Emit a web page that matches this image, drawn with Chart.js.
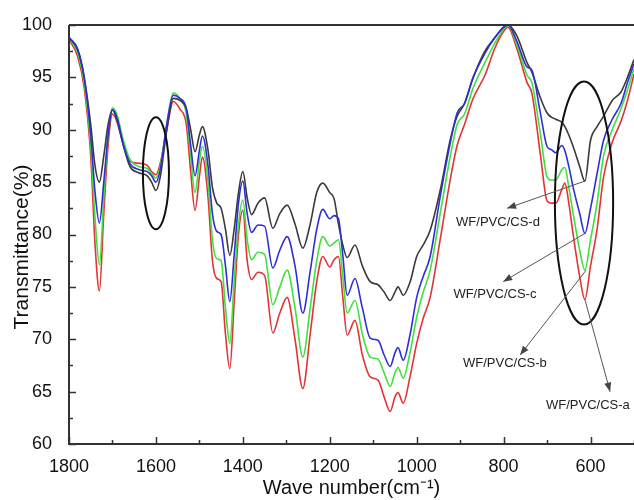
<!DOCTYPE html>
<html>
<head>
<meta charset="utf-8">
<script src="https://cdn.jsdelivr.net/npm/chart.js@4.4.0/dist/chart.umd.min.js"></script>
<style>
  html, body { margin: 0; padding: 0; background: #fff; }
  #wrap { width: 634px; height: 500px; }
</style>
</head>
<body>
<div id="wrap"><canvas id="chartContainer" width="634" height="500"></canvas></div>
<script>
// wave numbers (cm-1), shared by all four spectra
var wave = [1800,1780,1765,1750,1740,1730,1720,1710,1700,1690,1675,1660,1640,1620,1610,1600,1590,1575,1560,1545,1530,1520,1510,1500,1493,1480,1470,1460,1450,1440,1430,1420,1410,1400,1390,1380,1365,1350,1331,1315,1298,1280,1262,1245,1230,1216,1200,1190,1180,1170,1160,1142,1125,1107,1089,1075,1061,1050,1043,1031,1015,1000,985,969,946,923,907,890,870,843,820,800,790,770,746,735,715,700,690,680,666,659,650,640,625,613,600,585,570,550,530,515,500];

// transmittance (%) of each sample
var curveD = [98.8,97.6,95.0,90.5,86.5,85.0,87.5,90.5,91.9,91.0,88.5,86.5,85.9,85.6,85.0,84.2,85.5,90.0,93.0,92.8,92.0,90.0,87.9,89.5,90.3,88.0,84.5,83.0,82.5,80.5,78.0,80.5,84.0,86.0,83.5,81.9,83.0,83.5,80.6,82.0,82.8,81.0,78.7,81.0,84.0,84.9,84.0,83.4,81.0,79.0,77.8,79.0,77.0,75.5,75.2,74.5,73.7,74.5,75.0,74.2,75.5,77.9,79.0,80.4,84.2,89.0,91.3,92.5,95.0,97.5,98.8,99.8,100,99.0,96.4,95.5,93.0,91.6,91.2,91.0,90.7,90.3,89.5,88.4,86.5,85.1,89.0,90.3,91.3,92.8,93.6,95.0,96.7];
var curveC = [98.8,97.7,95.0,89.5,84.0,81.1,85.0,89.5,91.9,91.2,88.6,86.8,86.2,86.0,85.6,85.0,86.2,90.5,93.3,93.0,92.0,88.5,85.6,88.0,89.4,86.5,82.0,80.3,80.0,77.0,73.6,78.0,83.0,85.1,82.0,80.2,80.9,80.8,76.8,78.5,79.8,77.0,72.5,76.5,80.5,82.4,81.5,81.8,81.5,78.0,74.2,75.8,73.0,70.1,69.9,68.5,67.4,68.7,69.2,68.0,70.5,74.0,76.0,77.9,83.6,88.7,91.6,92.5,95.0,97.3,98.8,99.8,100,98.5,96.0,95.7,91.5,88.4,88.1,87.8,88.5,88.0,86.5,84.5,82.0,80.1,82.5,85.8,89.0,91.0,92.5,94.5,96.3];
var curveB = [98.7,97.3,94.5,88.5,81.5,77.1,83.5,89.5,92.1,91.5,89.0,87.2,86.5,86.3,85.8,85.4,86.5,90.6,93.5,93.0,91.5,87.5,84.0,87.0,88.4,85.0,79.5,77.7,77.5,73.0,69.6,75.5,81.0,83.3,79.5,77.6,78.3,78.1,73.3,75.0,76.6,73.0,68.3,73.0,77.5,79.8,78.9,79.2,79.5,76.0,72.5,73.7,70.5,68.3,68.1,66.8,65.5,66.8,67.3,66.3,68.8,72.1,74.5,76.6,82.0,87.4,90.5,91.5,94.0,96.4,98.3,99.6,100,98.2,95.2,94.5,89.5,85.5,85.2,85.2,86.2,86.4,84.5,82.0,78.5,76.6,79.5,83.0,87.5,90.0,92.0,93.8,95.8];
var curveA = [98.6,97.0,94.0,87.5,79.0,74.6,82.0,88.5,91.5,90.8,88.6,87.0,86.8,86.6,86.0,85.7,86.8,90.0,92.7,92.0,90.5,86.0,82.3,85.5,87.4,83.5,77.5,75.8,75.5,70.5,67.2,73.5,80.0,82.3,77.5,75.7,76.4,76.1,70.6,72.5,74.0,70.0,65.3,70.5,75.5,77.9,76.9,77.6,77.9,74.0,70.4,71.8,68.5,66.4,66.1,64.5,63.1,64.5,64.9,63.9,66.5,69.6,72.0,74.0,79.5,85.2,88.5,90.5,93.0,95.2,97.8,99.4,99.8,97.8,94.5,93.5,87.5,83.2,83.0,83.0,84.3,84.9,83.0,80.0,76.0,73.8,77.0,80.5,85.5,88.8,90.8,92.8,95.3];

var seriesNames = ['WF/PVC/CS-c', 'WF/PVC/CS-d', 'WF/PVC/CS-b', 'WF/PVC/CS-a'];
var seriesData = [curveC, curveD, curveB, curveA];
var seriesColors = ['#2e2ed6', '#3a3a3a', '#3fe03f', '#e23434'];

var xTicksMajor = [1800, 1600, 1400, 1200, 1000, 800, 600];
var xTicksMinor = [1700, 1500, 1300, 1100, 900, 700, 500];
var yTicksMajor = [60, 65, 70, 75, 80, 85, 90, 95, 100];
var yTitle = 'Transmittance(%)';

// ellipses marking the bands (centre / radii in wave number and %)
var ellipseCx = [1600, 615];
var ellipseCy = [85.85, 83.0];
var ellipseRx = [30, 67];
var ellipseRy = [5.35, 11.6];

// arrow from each curve minimum to its label
var arrowLabels = ['WF/PVC/CS-d', 'WF/PVC/CS-c', 'WF/PVC/CS-b', 'WF/PVC/CS-a'];
var arrowFrom = [[613, 85.1], [613, 80.1], [610, 76.6], [613, 73.8]];
var arrowTo = [[792, 82.5], [801, 75.5], [762, 68.5], [555, 65.0]];
var labelAt = [[813, 81.2], [820, 74.3], [797, 67.7], [606, 63.7]];

var FONT = "'Liberation Sans', Arial, sans-serif";

function toPts(arr) {
  return wave.map(function(w, i) { return { x: w, y: arr[i] }; });
}

// axes frame, inward ticks, y title
var framePlugin = {
  id: 'frame',
  afterDraw: function(chart) {
    var ctx = chart.ctx, a = chart.chartArea;
    var x = chart.scales.x, y = chart.scales.y;
    ctx.save();
    ctx.strokeStyle = '#333';
    ctx.lineWidth = 2;
    ctx.beginPath();
    ctx.moveTo(a.left, a.top);
    ctx.lineTo(a.left, a.bottom);
    ctx.lineTo(a.right, a.bottom);
    ctx.moveTo(a.left, a.top);
    ctx.lineTo(a.right, a.top);
    ctx.stroke();
    ctx.lineWidth = 1.5;
    ctx.beginPath();
    xTicksMajor.forEach(function(v) {
      var px = Math.round(x.getPixelForValue(v)) + 0.5;
      ctx.moveTo(px, a.bottom); ctx.lineTo(px, a.bottom - 7);
    });
    xTicksMinor.forEach(function(v) {
      var px = Math.round(x.getPixelForValue(v)) + 0.5;
      ctx.moveTo(px, a.bottom); ctx.lineTo(px, a.bottom - 4);
    });
    yTicksMajor.forEach(function(v, i) {
      var py = Math.round(y.getPixelForValue(v)) + 0.5;
      ctx.moveTo(a.left, py); ctx.lineTo(a.left + 7, py);
      if (i < yTicksMajor.length - 1) {
        var pm = Math.round(y.getPixelForValue(v + 2.5)) + 0.5;
        ctx.moveTo(a.left, pm); ctx.lineTo(a.left + 4, pm);
      }
    });
    ctx.stroke();
    // y axis title, sits a bit below the middle like the original
    ctx.translate(22, 247);
    ctx.rotate(-Math.PI / 2);
    ctx.fillStyle = '#111';
    ctx.font = '21px ' + FONT;
    ctx.textAlign = 'center';
    ctx.textBaseline = 'middle';
    ctx.fillText(yTitle, 0, 0);
    ctx.restore();
  }
};

// ellipses, arrows and sample labels
var annotPlugin = {
  id: 'annot',
  afterDatasetsDraw: function(chart) {
    var ctx = chart.ctx;
    var x = chart.scales.x, y = chart.scales.y;
    ctx.save();
    ctx.strokeStyle = '#111';
    ctx.lineWidth = 2;
    for (var i = 0; i < ellipseCx.length; i++) {
      var cx = x.getPixelForValue(ellipseCx[i]);
      var cy = y.getPixelForValue(ellipseCy[i]);
      var rx = Math.abs(x.getPixelForValue(ellipseCx[i] + ellipseRx[i]) - cx);
      var ry = Math.abs(y.getPixelForValue(ellipseCy[i] + ellipseRy[i]) - cy);
      ctx.beginPath();
      ctx.ellipse(cx, cy, rx, ry, 0, 0, Math.PI * 2);
      ctx.stroke();
    }
    ctx.strokeStyle = '#555';
    ctx.fillStyle = '#444';
    ctx.lineWidth = 1;
    for (var j = 0; j < arrowLabels.length; j++) {
      var fx = x.getPixelForValue(arrowFrom[j][0]), fy = y.getPixelForValue(arrowFrom[j][1]);
      var tx = x.getPixelForValue(arrowTo[j][0]), ty = y.getPixelForValue(arrowTo[j][1]);
      ctx.beginPath();
      ctx.moveTo(fx, fy);
      ctx.lineTo(tx, ty);
      ctx.stroke();
      var ang = Math.atan2(ty - fy, tx - fx);
      ctx.beginPath();
      ctx.moveTo(tx, ty);
      ctx.lineTo(tx - 9 * Math.cos(ang) + 3.5 * Math.sin(ang), ty - 9 * Math.sin(ang) - 3.5 * Math.cos(ang));
      ctx.lineTo(tx - 9 * Math.cos(ang) - 3.5 * Math.sin(ang), ty - 9 * Math.sin(ang) + 3.5 * Math.cos(ang));
      ctx.closePath();
      ctx.fill();
    }
    ctx.fillStyle = '#222';
    ctx.font = '13px ' + FONT;
    ctx.textAlign = 'center';
    ctx.textBaseline = 'middle';
    for (var k = 0; k < arrowLabels.length; k++) {
      ctx.fillText(arrowLabels[k], x.getPixelForValue(labelAt[k][0]), y.getPixelForValue(labelAt[k][1]));
    }
    ctx.restore();
  }
};

var ctx = document.getElementById('chartContainer').getContext('2d');
var chart = new Chart(ctx, {
  type: 'line',
  data: {
    datasets: seriesData.map(function(arr, i) {
      return {
        label: seriesNames[i],
        data: toPts(arr),
        borderColor: seriesColors[i],
        borderWidth: 1.6,
        pointRadius: 0,
        fill: false,
        cubicInterpolationMode: 'monotone'
      };
    })
  },
  options: {
    responsive: false,
    animation: false,
    layout: { padding: { top: 25, right: 0, bottom: 0, left: 0 } },
    plugins: {
      legend: { display: false },
      tooltip: { enabled: false }
    },
    scales: {
      x: {
        type: 'linear',
        reverse: true,
        min: 500,
        max: 1800,
        border: { display: false },
        grid: { display: false },
        afterFit: function(s) { s.height = 56; },
        ticks: {
          stepSize: 200,
          includeBounds: false,
          padding: 4,
          color: '#111',
          font: { family: FONT, size: 18 },
          maxRotation: 0,
          callback: function(v) { return String(v); }
        },
        title: {
          display: true,
          text: 'Wave number(cm⁻¹)',
          color: '#111',
          font: { family: FONT, size: 20 },
          padding: { top: 0, bottom: 0 }
        }
      },
      y: {
        min: 60,
        max: 100,
        border: { display: false },
        grid: { display: false },
        afterFit: function(s) { s.width = 69; },
        ticks: {
          stepSize: 5,
          padding: 9,
          color: '#111',
          font: { family: FONT, size: 18 }
        }
      }
    }
  },
  plugins: [annotPlugin, framePlugin]
});
</script>
</body>
</html>
